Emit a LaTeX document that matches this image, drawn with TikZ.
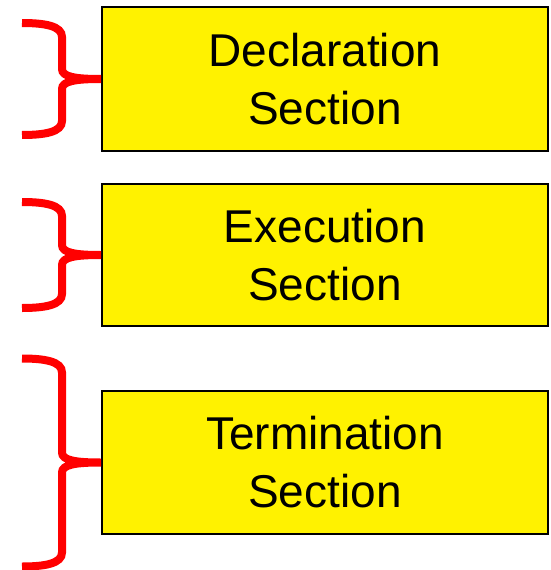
\documentclass[tikz,border=0pt]{standalone}
\usepackage{fontspec}
\setmainfont{Liberation Sans}
\begin{document}
\begin{tikzpicture}[x=1pt,y=-1pt,
  box/.style={draw=black, line width=2pt, fill=yellow, minimum width=446pt, align=center,
    font=\fontsize{46}{58}\selectfont, inner sep=0pt},
  curly/.style={draw=red, line width=8pt}]
\useasboundingbox (0,0) rectangle (550,570);
\node[box, minimum height=144pt] (d) at (325,79) {Declaration\\Section};
\node[box, minimum height=142pt] (e) at (325,255) {Execution\\Section};
\node[box, minimum height=143pt] (t) at (325,462.5) {Termination\\Section};
\foreach \n/\T/\h in {d/79/56, e/255/53, t/462.5/104}{
  \draw[curly] (22,\T-\h) .. controls (45,\T-\h) and (62,\T-\h+3) .. (62,\T-\h+14)
     -- (62,\T-10) .. controls (62,\T-2) and (76,\T) .. (\n.west)
     .. controls (76,\T) and (62,\T+2) .. (62,\T+10)
     -- (62,\T+\h-14) .. controls (62,\T+\h-3) and (45,\T+\h) .. (22,\T+\h);
}
\end{tikzpicture}
\end{document}
